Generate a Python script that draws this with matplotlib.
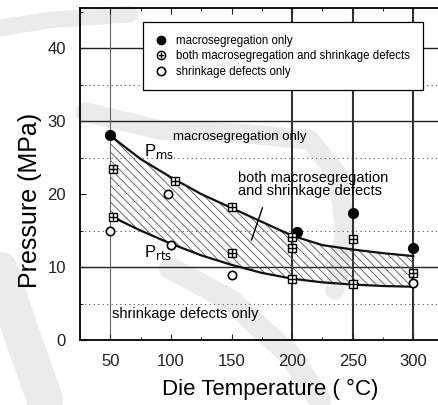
import numpy as np
from matplotlib import pyplot as plt
from matplotlib.lines import Line2D

filled_T = [50, 204, 250, 300]
filled_P = [28.1, 14.8, 17.4, 12.6]

both_T = [52, 52, 103, 150, 150, 200, 200, 200, 250, 250, 300]
both_P = [23.4, 16.8, 21.8, 18.2, 11.9, 14.1, 12.6, 8.4, 13.8, 7.7, 9.2]

shrink_T = [50, 98, 100, 150, 300]
shrink_P = [15.0, 20.0, 13.0, 8.9, 7.8]

curve_T = [50, 75, 100, 125, 150, 175, 200, 225, 250, 275, 300]
P_ms = [28.0, 24.8, 22.3, 20.0, 18.1, 16.2, 14.3, 13.0, 12.4, 11.9, 11.5]
P_rts = [17.0, 15.0, 13.2, 11.6, 10.3, 9.2, 8.4, 7.9, 7.6, 7.4, 7.3]

xticks = [50, 100, 150, 200, 250, 300]
yticks = [0, 10, 20, 30, 40]

plt.rcParams['font.family'] = ['Liberation Sans', 'DejaVu Sans']
plt.rcParams['hatch.linewidth'] = 0.6

fig = plt.figure(figsize=(4.38, 4.05), dpi=100)
W, H = 438.0, 405.0

# faint watermark swirls behind everything
def band(xs, ys, lw):
    fig.add_artist(Line2D(np.array(xs) / W, 1 - np.array(ys) / H, color='#ebebeb',
                          lw=lw, solid_capstyle='round', zorder=-5))

band([85, 160, 250, 310, 338, 345, 335], [112, 130, 134, 140, 175, 230, 290], 14)
band([0, 50, 130], [28, 20, 14], 12)
band([0, 22, 45], [270, 335, 400], 26)
band([170, 230, 290, 320], [268, 300, 355, 400], 16)

ax = fig.add_axes([80 / W, 65 / H, 363.6 / W, 332 / H])
ax.set_facecolor('none')
ax.set_xlim(25, 325)
ax.set_ylim(0, 45.5)

# grid lines of the original
for y in [10, 30, 40]:
    ax.axhline(y, color='#222222', lw=1.0, zorder=1)
for y in [5, 15, 25, 35]:
    ax.axhline(y, color='#555555', lw=0.8, ls=(0, (1, 3)), zorder=1)
ax.axvline(50, color='#666666', lw=0.8, zorder=1)
for x in [200, 250, 300]:
    ax.axvline(x, color='#333333', lw=1.5, zorder=1)

# region between the two limit curves
ax.fill_between(curve_T, P_rts, P_ms, facecolor='none', edgecolor='#555555',
                hatch='\\\\\\\\', lw=0, zorder=2)
ax.plot(curve_T, P_ms, color='#111111', lw=1.6, zorder=3)
ax.plot(curve_T, P_rts, color='#111111', lw=1.6, zorder=3)

ax.plot(filled_T, filled_P, 'o', ms=7, color='black', zorder=5)
ax.plot(both_T, both_P, 's', ms=6, mfc='white', mec='black', mew=1.0, zorder=5)
ax.plot(both_T, both_P, '+', ms=6, color='black', mew=1.0, zorder=6)
ax.plot(shrink_T, shrink_P, 'o', ms=6, mfc='white', mec='black', mew=1.2, zorder=5)

ax.text(157, 27.8, 'macrosegregation only', fontsize=9.5, ha='center', va='center', zorder=7)
ax.text(155, 21.3, 'both macrosegregation\nand shrinkage defects', fontsize=10.5,
        ha='left', va='center', linespacing=0.85, zorder=7)
ax.plot([175.5, 166.5], [18.1, 13.7], color='black', lw=1.0, zorder=4)
ax.text(51, 3.6, 'shrinkage defects only', fontsize=10.5, ha='left', va='center', zorder=7)
ax.text(78, 25.8, r'P$_{\rm ms}$', fontsize=12, ha='left', va='center', zorder=7)
ax.text(78, 12.0, r'P$_{\rm rts}$', fontsize=12, ha='left', va='center', zorder=7)

ax.set_xticks(xticks)
ax.set_yticks(yticks)
ax.set_xticks(np.arange(25, 326, 25), minor=True)
ax.set_yticks(np.arange(0, 46, 5), minor=True)
ax.tick_params(direction='in', top=True, labelsize=12, colors='#222222', length=4, pad=10)
ax.tick_params(which='minor', direction='in', top=True, length=2)
for s in ax.spines.values():
    s.set_linewidth(1.3)
ax.set_xlabel('Die Temperature ( °C)', fontsize=16)
ax.set_ylabel('Pressure (MPa)', fontsize=18)
ax.xaxis.set_label_coords(0.523, -0.117)
ax.yaxis.set_label_coords(-0.104, 0.419)

h_filled = Line2D([], [], marker='o', ms=6, color='black', ls='none')
h_both1 = Line2D([], [], marker='o', ms=6, mfc='white', mec='black', ls='none')
h_both2 = Line2D([], [], marker='+', ms=5, color='black', ls='none')
h_shrink = Line2D([], [], marker='o', ms=6, mfc='white', mec='black', mew=1.2, ls='none')
leg = ax.legend([h_filled, (h_both1, h_both2), h_shrink],
                ['macrosegregation only', 'both macrosegregation and shrinkage defects',
                 'shrinkage defects only'],
                loc='upper left', bbox_to_anchor=(0.173, 0.958), fontsize=8.3,
                frameon=True, fancybox=False, framealpha=1, edgecolor='black',
                handlelength=1.0, handletextpad=0.8, borderpad=1.1, labelspacing=0.3,
                borderaxespad=0)
leg.get_frame().set_linewidth(0.9)
leg.set_zorder(10)

fig.savefig('out.png', dpi=100)
